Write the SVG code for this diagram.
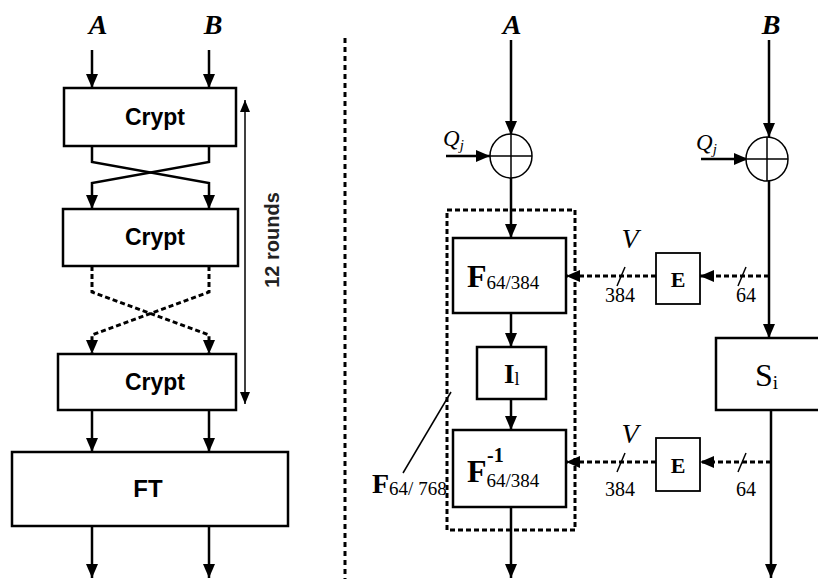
<svg xmlns="http://www.w3.org/2000/svg" width="818" height="579" viewBox="0 0 818 579">
<defs>
<marker id="ah" markerUnits="userSpaceOnUse" markerWidth="14" markerHeight="14" viewBox="0 0 14 14" refX="14" refY="7" orient="auto"><path d="M0,1 L14,7 L0,13 Z" fill="#000"/></marker>
<marker id="ahs" markerUnits="userSpaceOnUse" markerWidth="12" markerHeight="12" viewBox="0 0 12 12" refX="12" refY="6" orient="auto"><path d="M0,1 L12,6 L0,11 Z" fill="#000"/></marker>
<marker id="ahs0" markerUnits="userSpaceOnUse" markerWidth="12" markerHeight="12" viewBox="0 0 12 12" refX="0" refY="6" orient="auto"><path d="M12,1 L0,6 L12,11 Z" fill="#000"/></marker>
</defs>
<style>
.box{fill:#fff;stroke:#000;stroke-width:2.5}
.ln{fill:none;stroke:#000;stroke-width:2.5}
.dl{fill:none;stroke:#000;stroke-width:3;stroke-dasharray:5 3}
.thin{fill:none;stroke:#000;stroke-width:1.5}
.sans{font-family:"Liberation Sans",Arial,sans-serif;font-weight:bold}
.ser{font-family:"Liberation Serif","Times New Roman",serif}
.it{font-style:italic}
.b{font-weight:bold}
</style>

<!-- left side -->
<g id="connectors-left">
<line class="ln" x1="92" y1="50" x2="92" y2="88" marker-end="url(#ah)"/>
<line class="ln" x1="209" y1="50" x2="209" y2="88" marker-end="url(#ah)"/>
<path class="ln" d="M92,146 V162 L209,183 V209" marker-end="url(#ah)"/>
<path class="ln" d="M209,146 V162 L92,183 V209" marker-end="url(#ah)"/>
<path class="dl" d="M92,266 V292 L209,335 V354" marker-end="url(#ah)"/>
<path class="dl" d="M209,266 V292 L92,335 V354" marker-end="url(#ah)"/>
<line class="ln" x1="92" y1="410" x2="92" y2="452" marker-end="url(#ah)"/>
<line class="ln" x1="209" y1="410" x2="209" y2="452" marker-end="url(#ah)"/>
<line class="ln" x1="92" y1="526" x2="92" y2="578" marker-end="url(#ah)"/>
<line class="ln" x1="209" y1="526" x2="209" y2="578" marker-end="url(#ah)"/>
<line class="thin" x1="245" y1="100" x2="245" y2="404" marker-start="url(#ahs0)" marker-end="url(#ahs)"/>
</g>
<text class="ser it b" x="98" y="34" font-size="28" text-anchor="middle">A</text>
<text class="ser it b" x="213" y="34" font-size="28" text-anchor="middle">B</text>
<g id="crypt1"><rect class="box" x="64" y="88" width="172" height="58"/><text class="sans" x="155" y="125" font-size="23" text-anchor="middle">Crypt</text></g>
<g id="crypt2"><rect class="box" x="63" y="209" width="175" height="57"/><text class="sans" x="155" y="245" font-size="23" text-anchor="middle">Crypt</text></g>
<g id="crypt3"><rect class="box" x="58" y="354" width="178" height="56"/><text class="sans" x="155" y="390" font-size="23" text-anchor="middle">Crypt</text></g>
<g id="ft"><rect class="box" x="12" y="452" width="276" height="74"/><text class="sans" x="148" y="497" font-size="24" text-anchor="middle">FT</text></g>
<text class="sans" font-size="20" fill="#222" transform="translate(279,240) rotate(-90)" text-anchor="middle">12 rounds</text>

<!-- divider -->
<line x1="345" y1="38" x2="345" y2="579" stroke="#000" stroke-width="3" stroke-dasharray="5 4"/>

<!-- right side -->
<text class="ser it b" x="512" y="34" font-size="28" text-anchor="middle">A</text>
<text class="ser it b" x="771" y="34" font-size="28" text-anchor="middle">B</text>
<g id="connectors-right">
<line class="ln" x1="511" y1="40" x2="511" y2="135" marker-end="url(#ah)"/>
<line class="ln" x1="769" y1="40" x2="769" y2="137" marker-end="url(#ah)"/>
<line class="ln" x1="446" y1="156" x2="490" y2="156" marker-end="url(#ah)"/>
<line class="ln" x1="701" y1="159" x2="748" y2="159" marker-end="url(#ah)"/>
<line class="ln" x1="511" y1="178" x2="511" y2="238" marker-end="url(#ah)"/>
<line class="ln" x1="511" y1="313" x2="511" y2="347" marker-end="url(#ah)"/>
<line class="ln" x1="511" y1="399" x2="511" y2="430" marker-end="url(#ah)"/>
<line class="ln" x1="511" y1="507" x2="511" y2="578" marker-end="url(#ah)"/>
<line class="ln" x1="769" y1="181" x2="769" y2="338" marker-end="url(#ah)"/>
<line class="ln" x1="771" y1="410" x2="771" y2="578" marker-end="url(#ah)"/>
<line class="dl" x1="769" y1="276" x2="700" y2="276" marker-end="url(#ah)"/>
<line class="dl" x1="656" y1="276" x2="566" y2="276" marker-end="url(#ah)"/>
<line class="dl" x1="771" y1="462" x2="700" y2="462" marker-end="url(#ah)"/>
<line class="dl" x1="656" y1="462" x2="566" y2="462" marker-end="url(#ah)"/>
<line class="thin" x1="617" y1="286" x2="625" y2="267"/>
<line class="thin" x1="738" y1="286" x2="746" y2="267"/>
<line class="thin" x1="617" y1="472" x2="625" y2="453"/>
<line class="thin" x1="738" y1="472" x2="746" y2="453"/>
<line class="thin" x1="403" y1="473" x2="451" y2="392"/>
</g>

<g id="xor-a"><ellipse cx="511" cy="156" rx="21" ry="22" fill="#fff" stroke="#000" stroke-width="1.5"/><path class="thin" d="M511,134 V178 M490,156 H532"/></g>
<g id="xor-b"><ellipse cx="767" cy="159" rx="21" ry="22" fill="#fff" stroke="#000" stroke-width="1.5"/><path class="thin" d="M767,137 V181 M746,159 H788"/></g>
<text class="ser it" x="443" y="146" font-size="23">Q<tspan font-size="15" dy="4">j</tspan></text>
<text class="ser it" x="696" y="150" font-size="23">Q<tspan font-size="15" dy="4">j</tspan></text>

<rect id="f64-768" x="447" y="210" width="128" height="320" fill="none" stroke="#000" stroke-width="3" stroke-dasharray="5 3"/>
<g id="f-box"><rect class="box" x="453" y="238" width="113" height="75"/><text class="ser" x="467" y="287"><tspan class="b" font-size="32">F</tspan><tspan font-size="19" dy="2">64/384</tspan></text></g>
<g id="i-box"><rect class="box" x="477" y="347" width="69" height="52"/><text class="ser" x="504" y="383"><tspan class="b" font-size="27">I</tspan><tspan font-size="18" dy="2">l</tspan></text></g>
<g id="finv-box"><rect class="box" x="453" y="430" width="113" height="77"/><text class="ser" x="467" y="482"><tspan class="b" font-size="32">F</tspan><tspan font-size="19" dy="5">64/384</tspan></text><text class="ser b" x="487" y="462" font-size="20">-1</text></g>
<g id="e1"><rect x="656" y="253" width="44" height="51" fill="#fff" stroke="#000" stroke-width="1.8"/><text class="ser b" x="678" y="287" font-size="22" text-anchor="middle">E</text></g>
<g id="e2"><rect x="656" y="438" width="44" height="53" fill="#fff" stroke="#000" stroke-width="1.8"/><text class="ser b" x="678" y="473" font-size="22" text-anchor="middle">E</text></g>
<g id="si"><rect class="box" x="716" y="338" width="115" height="72"/><text class="ser" x="755" y="386"><tspan font-size="32">S</tspan><tspan font-size="19" dy="3">i</tspan></text></g>

<text class="ser it" x="630" y="248" font-size="28" text-anchor="middle">V</text>
<text class="ser it" x="630" y="443" font-size="28" text-anchor="middle">V</text>
<text class="ser" x="620" y="302" font-size="20" text-anchor="middle">384</text>
<text class="ser" x="746" y="302" font-size="20" text-anchor="middle">64</text>
<text class="ser" x="620" y="496" font-size="20" text-anchor="middle">384</text>
<text class="ser" x="746" y="496" font-size="20" text-anchor="middle">64</text>
<text class="ser" x="372" y="493"><tspan class="b" font-size="28">F</tspan><tspan font-size="19" dy="2">64/ 768</tspan></text>
</svg>
